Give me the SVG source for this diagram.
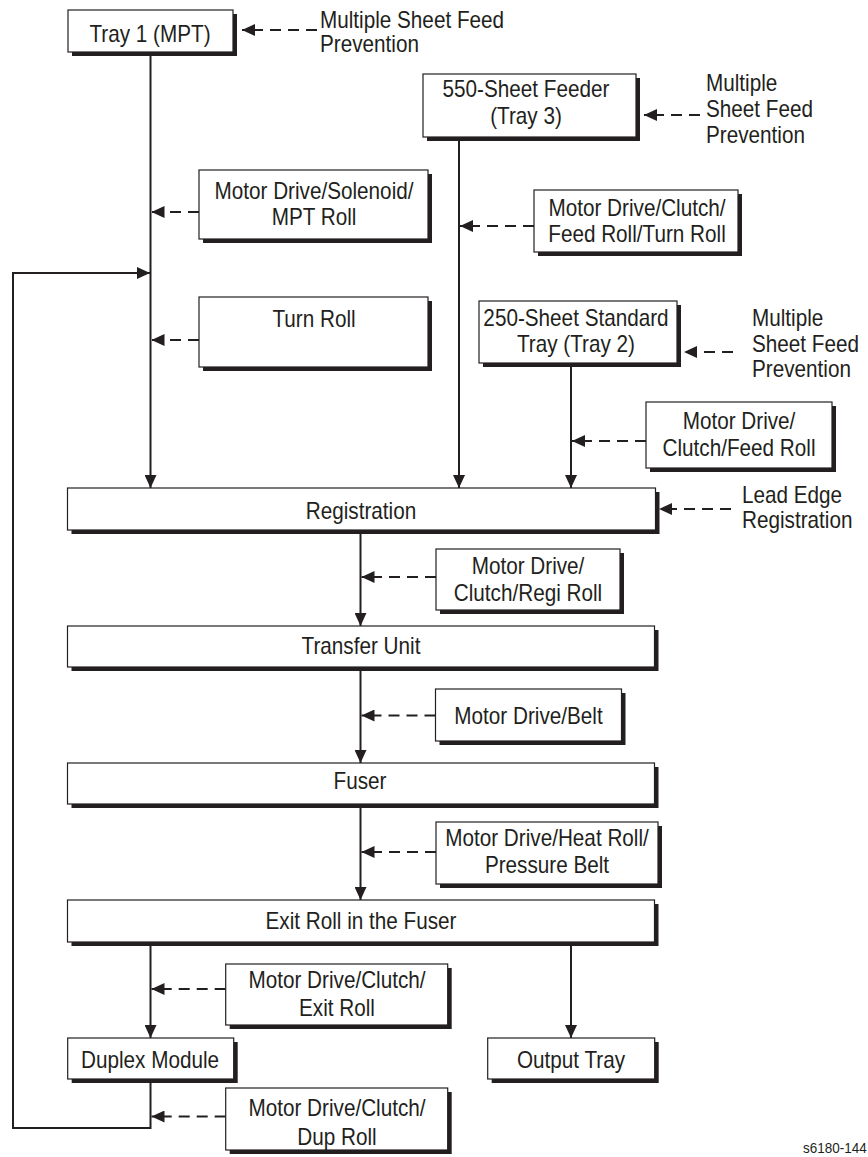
<svg xmlns="http://www.w3.org/2000/svg" width="868" height="1157" viewBox="0 0 868 1157">
<defs>
<marker id="ah" viewBox="0 0 13 12" refX="13" refY="6" markerWidth="13" markerHeight="12" markerUnits="userSpaceOnUse" orient="auto">
<path d="M0,0 L13,6 L0,12 z" fill="#231f20"/>
</marker>
<style>
.box{fill:#fff;stroke:#231f20;stroke-width:1.2}
.sh{fill:#231f20}
.t{font-family:"Liberation Sans",Arial,sans-serif;font-size:23px;fill:#231f20;text-anchor:middle}
.l{text-anchor:start}
.flow{fill:none;stroke:#231f20;stroke-width:2;marker-end:url(#ah)}
.dash{fill:none;stroke:#231f20;stroke-width:2;stroke-dasharray:11 7;marker-end:url(#ah)}
</style>
</defs>
<rect width="868" height="1157" fill="#fff"/>

<g id="connectors">
<path class="flow" d="M150.5,52 V488"/>
<path class="flow" d="M459,137 V488"/>
<path class="flow" d="M571,363 V488"/>
<path class="flow" d="M360.5,530 V626"/>
<path class="flow" d="M360.5,667 V763"/>
<path class="flow" d="M360.5,804 V900"/>
<path class="flow" d="M150.5,942 V1038"/>
<path class="flow" d="M571,942 V1038"/>
<path class="flow" d="M150.5,1079 V1128 H13 V273 H150"/>
<path class="dash" d="M317,30 H242"/>
<path class="dash" d="M199,212 H151.5"/>
<path class="dash" d="M199,340 H151.5"/>
<path class="dash" d="M700,115 H644"/>
<path class="dash" d="M534,226 H460"/>
<path class="dash" d="M733,352 H684"/>
<path class="dash" d="M646,441 H572"/>
<path class="dash" d="M731,509 H659"/>
<path class="dash" d="M436,577 H361.5"/>
<path class="dash" d="M435.5,715.5 H361.5"/>
<path class="dash" d="M436,852 H361.5"/>
<path class="dash" d="M225.7,989 H151.5"/>
<path class="dash" d="M225.7,1116.5 H151.5"/>
</g>

<g id="tray1">
<rect class="sh" x="72" y="14" width="165" height="42"/>
<rect class="box" x="68" y="10" width="165" height="42"/>
<text class="t" transform="translate(150 0) scale(0.9 1)" x="0" y="42">Tray 1 (MPT)</text>
</g>

<g id="msfp1">
<text class="t l" transform="translate(320 0) scale(0.9 1)"><tspan x="0" y="28">Multiple Sheet Feed</tspan><tspan x="0" y="52">Prevention</tspan></text>
</g>

<g id="solenoid">
<rect class="sh" x="203" y="174" width="229" height="69"/>
<rect class="box" x="199" y="170" width="229" height="69"/>
<text class="t" transform="translate(314 0) scale(0.9 1)"><tspan x="0" y="199">Motor Drive/Solenoid/</tspan><tspan x="0" y="225">MPT Roll</tspan></text>
</g>

<g id="turnroll">
<rect class="sh" x="203" y="301" width="229" height="70"/>
<rect class="box" x="199" y="297" width="229" height="70"/>
<text class="t" transform="translate(314 0) scale(0.9 1)" x="0" y="327">Turn Roll</text>
</g>

<g id="feeder550">
<rect class="sh" x="427" y="78" width="213" height="63"/>
<rect class="box" x="423" y="74" width="213" height="63"/>
<text class="t" transform="translate(526 0) scale(0.9 1)"><tspan x="0" y="97">550-Sheet Feeder</tspan><tspan x="0" y="124">(Tray 3)</tspan></text>
</g>

<g id="msfp2">
<text class="t l" transform="translate(706 0) scale(0.9 1)"><tspan x="0" y="91">Multiple</tspan><tspan x="0" y="117">Sheet Feed</tspan><tspan x="0" y="143">Prevention</tspan></text>
</g>

<g id="clutchturn">
<rect class="sh" x="538" y="194" width="204" height="62"/>
<rect class="box" x="534" y="190" width="204" height="62"/>
<text class="t" transform="translate(637 0) scale(0.9 1)"><tspan x="0" y="216">Motor Drive/Clutch/</tspan><tspan x="0" y="242">Feed Roll/Turn Roll</tspan></text>
</g>

<g id="tray2">
<rect class="sh" x="483" y="305" width="198" height="62"/>
<rect class="box" x="479" y="301" width="198" height="62"/>
<text class="t" transform="translate(576 0) scale(0.9 1)"><tspan x="0" y="326">250-Sheet Standard</tspan><tspan x="0" y="352">Tray (Tray 2)</tspan></text>
</g>

<g id="msfp3">
<text class="t l" transform="translate(752 0) scale(0.9 1)"><tspan x="0" y="326">Multiple</tspan><tspan x="0" y="352">Sheet Feed</tspan><tspan x="0" y="377">Prevention</tspan></text>
</g>

<g id="clutchfeed">
<rect class="sh" x="650" y="406" width="186" height="66"/>
<rect class="box" x="646" y="402" width="186" height="66"/>
<text class="t" transform="translate(739 0) scale(0.9 1)"><tspan x="0" y="429">Motor Drive/</tspan><tspan x="0" y="456">Clutch/Feed Roll</tspan></text>
</g>

<g id="registration">
<rect class="sh" x="71.5" y="492" width="588" height="42"/>
<rect class="box" x="67.5" y="488" width="588" height="42"/>
<text class="t" transform="translate(361 0) scale(0.9 1)" x="0" y="519">Registration</text>
</g>

<g id="leadedge">
<text class="t l" transform="translate(742 0) scale(0.9 1)"><tspan x="0" y="503">Lead Edge</tspan><tspan x="0" y="528">Registration</tspan></text>
</g>

<g id="regiroll">
<rect class="sh" x="440" y="553" width="184" height="61"/>
<rect class="box" x="436" y="549" width="184" height="61"/>
<text class="t" transform="translate(528 0) scale(0.9 1)"><tspan x="0" y="574">Motor Drive/</tspan><tspan x="0" y="601">Clutch/Regi Roll</tspan></text>
</g>

<g id="transfer">
<rect class="sh" x="71.5" y="630" width="587" height="41"/>
<rect class="box" x="67.5" y="626" width="587" height="41"/>
<text class="t" transform="translate(361 0) scale(0.9 1)" x="0" y="654">Transfer Unit</text>
</g>

<g id="belt">
<rect class="sh" x="439.5" y="693" width="186" height="52"/>
<rect class="box" x="435.5" y="689" width="186" height="52"/>
<text class="t" transform="translate(528.5 0) scale(0.9 1)" x="0" y="724">Motor Drive/Belt</text>
</g>

<g id="fuser">
<rect class="sh" x="71.5" y="767" width="587" height="41"/>
<rect class="box" x="67.5" y="763" width="587" height="41"/>
<text class="t" transform="translate(360 0) scale(0.9 1)" x="0" y="789">Fuser</text>
</g>

<g id="heatroll">
<rect class="sh" x="440" y="826" width="222" height="62"/>
<rect class="box" x="436" y="822" width="222" height="62"/>
<text class="t" transform="translate(547 0) scale(0.9 1)"><tspan x="0" y="846">Motor Drive/Heat Roll/</tspan><tspan x="0" y="873">Pressure Belt</tspan></text>
</g>

<g id="exitfuser">
<rect class="sh" x="71.5" y="904" width="587" height="42"/>
<rect class="box" x="67.5" y="900" width="587" height="42"/>
<text class="t" transform="translate(361 0) scale(0.9 1)" x="0" y="929">Exit Roll in the Fuser</text>
</g>

<g id="exitroll">
<rect class="sh" x="229.7" y="968" width="222" height="61"/>
<rect class="box" x="225.7" y="964" width="222" height="61"/>
<text class="t" transform="translate(337 0) scale(0.9 1)"><tspan x="0" y="988">Motor Drive/Clutch/</tspan><tspan x="0" y="1016">Exit Roll</tspan></text>
</g>

<g id="duplex">
<rect class="sh" x="71.7" y="1042" width="166" height="41"/>
<rect class="box" x="67.7" y="1038" width="166" height="41"/>
<text class="t" transform="translate(150 0) scale(0.9 1)" x="0" y="1068">Duplex Module</text>
</g>

<g id="outputtray">
<rect class="sh" x="491.7" y="1042" width="167" height="41"/>
<rect class="box" x="487.7" y="1038" width="167" height="41"/>
<text class="t" transform="translate(571 0) scale(0.9 1)" x="0" y="1068">Output Tray</text>
</g>

<g id="duproll">
<rect class="sh" x="229.7" y="1092" width="222" height="62"/>
<rect class="box" x="225.7" y="1088" width="222" height="62"/>
<text class="t" transform="translate(337 0) scale(0.9 1)"><tspan x="0" y="1116.5">Motor Drive/Clutch/</tspan><tspan x="0" y="1145">Dup Roll</tspan></text>
</g>

<g id="figlabel">
<text class="t l" style="font-size:15px" transform="translate(803 0) scale(0.9 1)" x="0" y="1153">s6180-144</text>
</g>
</svg>
